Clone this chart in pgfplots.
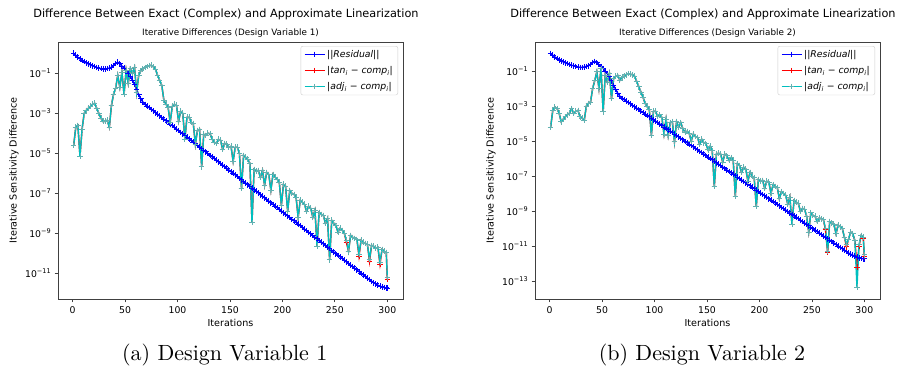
\documentclass[border=0pt]{standalone}
\usepackage{pgfplots}
\pgfplotsset{compat=1.18}
\usepackage{pgfplotstable}
\usepackage{fontspec}
\newfontfamily\dv{DejaVu Sans}
\newfontfamily\lmten{lmroman10-regular.otf}
\definecolor{mplblue}{rgb}{0,0,1}
\definecolor{mplred}{rgb}{1,0,0}
\definecolor{mplcyan}{rgb}{0,0.75,0.75}
\definecolor{mplcyanmark}{rgb}{0.38,0.70,0.70}

\pgfplotstableread{
it res
1 1.00e0
3 7.94e-1
5 6.31e-1
7 5.25e-1
9 4.37e-1
11 3.80e-1
13 3.31e-1
15 2.95e-1
17 2.63e-1
19 2.34e-1
21 2.14e-1
23 1.95e-1
25 1.82e-1
27 1.70e-1
29 1.62e-1
31 1.62e-1
33 1.70e-1
35 1.82e-1
37 2.00e-1
39 2.40e-1
41 3.02e-1
43 3.55e-1
45 3.02e-1
47 2.29e-1
49 1.78e-1
51 1.38e-1
53 1.00e-1
55 6.92e-2
57 4.57e-2
59 2.75e-2
61 1.51e-2
63 8.71e-3
65 5.25e-3
67 3.63e-3
69 2.75e-3
71 2.29e-3
73 1.91e-3
75 1.58e-3
77 1.32e-3
79 1.07e-3
81 8.91e-4
83 7.41e-4
85 6.17e-4
87 5.13e-4
89 4.17e-4
91 3.47e-4
93 2.88e-4
95 2.40e-4
97 2.00e-4
99 1.62e-4
101 1.35e-4
103 1.12e-4
105 9.33e-5
107 7.76e-5
109 6.31e-5
111 5.25e-5
113 4.37e-5
115 3.63e-5
117 3.02e-5
119 2.45e-5
121 2.04e-5
123 1.70e-5
125 1.41e-5
127 1.17e-5
129 9.55e-6
131 7.94e-6
133 6.61e-6
135 5.50e-6
137 4.57e-6
139 3.72e-6
141 3.09e-6
143 2.57e-6
145 2.14e-6
147 1.78e-6
149 1.45e-6
151 1.20e-6
153 1.00e-6
155 8.32e-7
157 6.92e-7
159 5.62e-7
161 4.68e-7
163 3.89e-7
165 3.24e-7
167 2.69e-7
169 2.19e-7
171 1.82e-7
173 1.51e-7
175 1.26e-7
177 1.05e-7
179 8.51e-8
181 7.08e-8
183 5.89e-8
185 4.90e-8
187 4.07e-8
189 3.31e-8
191 2.75e-8
193 2.29e-8
195 1.91e-8
197 1.58e-8
199 1.29e-8
201 1.07e-8
203 8.91e-9
205 7.41e-9
207 6.17e-9
209 5.01e-9
211 4.17e-9
213 3.47e-9
215 2.88e-9
217 2.40e-9
219 1.95e-9
221 1.62e-9
223 1.35e-9
225 1.12e-9
227 9.33e-10
229 7.59e-10
231 6.31e-10
233 5.25e-10
235 4.37e-10
237 3.63e-10
239 2.95e-10
241 2.45e-10
243 2.04e-10
245 1.70e-10
247 1.41e-10
249 1.15e-10
251 9.55e-11
253 7.94e-11
255 6.61e-11
257 5.50e-11
259 4.47e-11
261 3.72e-11
263 3.09e-11
265 2.57e-11
267 2.14e-11
269 1.78e-11
271 1.48e-11
273 1.20e-11
275 1.00e-11
277 8.32e-12
279 6.92e-12
281 5.75e-12
283 4.79e-12
285 3.98e-12
287 3.39e-12
289 2.95e-12
291 2.57e-12
293 2.29e-12
295 2.09e-12
297 1.95e-12
299 1.86e-12
300 1.82e-12
}\resdata

\pgfplotstableread{
it tan adj
1 2.51e-5 2.51e-5
3 2.00e-4 2.00e-4
5 2.51e-4 2.51e-4
7 7.08e-6 7.08e-6
9 1.58e-4 1.58e-4
11 1.00e-3 1.00e-3
13 1.41e-3 1.41e-3
15 1.78e-3 1.78e-3
17 2.24e-3 2.24e-3
19 2.82e-3 2.82e-3
21 3.16e-3 3.16e-3
23 1.78e-3 1.78e-3
25 1.00e-3 1.00e-3
27 5.62e-4 5.62e-4
29 3.80e-4 3.80e-4
31 3.98e-4 3.98e-4
33 4.47e-4 4.47e-4
35 2.00e-4 2.00e-4
37 2.51e-3 2.51e-3
39 8.91e-3 8.91e-3
41 1.78e-2 1.78e-2
43 7.94e-2 7.94e-2
45 2.00e-2 2.00e-2
47 1.12e-1 1.12e-1
49 8.91e-3 8.91e-3
51 1.41e-1 1.41e-1
53 3.16e-2 3.16e-2
55 1.70e-1 1.70e-1
57 1.00e-1 1.00e-1
59 2.00e-1 2.00e-1
61 1.12e-2 1.12e-2
63 7.94e-2 7.94e-2
65 1.32e-1 1.32e-1
67 1.66e-1 1.66e-1
69 1.91e-1 1.91e-1
71 2.14e-1 2.14e-1
73 2.40e-1 2.40e-1
75 2.51e-1 2.51e-1
77 2.09e-1 2.09e-1
79 1.58e-1 1.58e-1
81 7.94e-2 7.94e-2
83 4.47e-2 4.47e-2
85 2.51e-2 2.51e-2
87 4.47e-3 4.47e-3
89 2.82e-3 2.82e-3
91 2.00e-3 2.00e-3
93 3.55e-4 3.55e-4
95 2.24e-3 2.24e-3
97 2.82e-3 2.82e-3
99 2.51e-3 2.51e-3
101 3.98e-4 3.98e-4
103 1.26e-3 1.26e-3
105 1.00e-3 1.00e-3
107 5.01e-5 5.01e-5
109 6.31e-4 6.31e-4
111 6.31e-4 6.31e-4
113 3.55e-4 3.55e-4
115 3.16e-4 3.16e-4
117 2.82e-5 2.82e-5
119 1.41e-4 1.41e-4
121 1.58e-4 1.58e-4
123 2.09e-6 2.09e-6
125 8.91e-5 8.91e-5
127 7.94e-5 7.94e-5
129 1.00e-4 1.00e-4
131 9.55e-5 9.55e-5
133 5.01e-5 5.01e-5
135 3.55e-5 3.55e-5
137 3.16e-5 3.16e-5
139 5.01e-5 5.01e-5
141 4.47e-5 4.47e-5
143 1.58e-5 1.58e-5
145 3.16e-5 3.16e-5
147 2.82e-5 2.82e-5
149 2.00e-5 2.00e-5
151 2.24e-5 2.24e-5
153 3.98e-6 3.98e-6
155 2.00e-5 2.00e-5
157 2.00e-5 2.00e-5
159 1.00e-5 1.00e-5
161 1.78e-7 1.78e-7
163 7.94e-6 7.94e-6
165 6.31e-6 6.31e-6
167 5.01e-6 5.01e-6
169 3.16e-6 3.16e-6
171 3.39e-9 3.39e-9
173 1.58e-6 1.58e-6
175 1.26e-6 1.26e-6
177 1.41e-6 1.41e-6
179 6.31e-7 6.31e-7
181 1.41e-6 1.41e-6
183 2.51e-7 2.51e-7
185 1.12e-6 1.12e-6
187 8.91e-7 8.91e-7
189 1.41e-7 1.41e-7
191 8.91e-7 8.91e-7
193 6.31e-7 6.31e-7
195 5.01e-7 5.01e-7
197 3.55e-7 3.55e-7
199 2.51e-8 2.51e-8
201 2.82e-7 2.82e-7
203 2.24e-7 2.24e-7
205 1.26e-8 1.26e-8
207 1.41e-7 1.41e-7
209 1.00e-7 1.00e-7
211 8.91e-8 8.91e-8
213 6.31e-8 6.31e-8
215 6.31e-9 6.31e-9
217 4.47e-8 4.47e-8
219 3.55e-8 3.55e-8
221 2.82e-8 2.82e-8
223 1.26e-8 1.26e-8
225 2.24e-8 2.24e-8
227 1.78e-8 1.78e-8
229 6.31e-9 6.31e-9
231 1.41e-8 1.41e-8
233 2.24e-10 2.24e-10
235 1.12e-8 1.12e-8
237 8.91e-9 8.91e-9
239 7.94e-9 7.94e-9
241 3.16e-9 3.16e-9
243 5.62e-9 5.62e-9
245 4.68e-11 4.68e-11
247 4.47e-9 4.47e-9
249 3.16e-9 3.16e-9
251 2.51e-9 2.51e-9
253 1.12e-9 1.12e-9
255 1.78e-9 1.78e-9
257 1.41e-9 1.41e-9
259 1.00e-9 1.00e-9
261 3.55e-10 4.47e-10
263 1.26e-10 1.26e-10
265 7.94e-10 7.94e-10
267 6.31e-10 6.31e-10
269 5.62e-10 5.62e-10
271 5.01e-10 5.01e-10
273 7.08e-11 8.91e-11
275 4.47e-10 4.47e-10
277 3.55e-10 3.55e-10
279 3.16e-10 3.16e-10
281 2.82e-10 2.82e-10
283 3.98e-11 5.01e-11
285 2.51e-10 2.51e-10
287 2.24e-10 2.24e-10
289 1.78e-10 1.78e-10
291 2.00e-10 2.00e-10
293 2.82e-11 3.55e-11
295 1.58e-10 1.58e-10
297 1.26e-10 1.26e-10
299 1.12e-10 1.12e-10
300 5.01e-12 6.31e-12
}\dataA

\pgfplotstableread{
it tan adj
1 6.31e-5 6.31e-5
3 5.62e-4 5.62e-4
5 8.71e-4 8.71e-4
7 7.08e-4 7.08e-4
9 3.98e-4 3.98e-4
11 1.26e-4 1.26e-4
13 1.78e-4 1.78e-4
15 2.40e-4 2.40e-4
17 3.16e-4 3.16e-4
19 3.98e-4 3.98e-4
21 7.08e-4 7.08e-4
23 3.63e-4 3.63e-4
25 5.01e-4 5.01e-4
27 5.62e-4 5.62e-4
29 2.40e-4 2.40e-4
31 2.00e-4 2.00e-4
33 1.51e-4 1.51e-4
35 1.00e-3 1.00e-3
37 1.41e-3 1.41e-3
39 1.70e-3 1.70e-3
41 1.00e-2 1.00e-2
43 2.82e-2 2.82e-2
45 8.91e-2 8.91e-2
47 1.00e-2 1.00e-2
49 1.35e-1 1.35e-1
51 4.57e-4 4.57e-4
53 5.62e-2 5.62e-2
55 2.34e-2 2.34e-2
57 7.08e-2 7.08e-2
59 2.63e-3 2.63e-3
61 3.63e-2 3.63e-2
63 5.01e-2 5.01e-2
65 5.62e-2 5.62e-2
67 2.95e-2 2.95e-2
69 4.47e-2 4.47e-2
71 5.01e-2 5.01e-2
73 6.03e-2 6.03e-2
75 7.08e-2 7.08e-2
77 6.61e-2 6.61e-2
79 6.03e-2 6.03e-2
81 5.01e-2 5.01e-2
83 2.51e-2 2.51e-2
85 1.26e-2 1.26e-2
87 6.31e-3 6.31e-3
89 3.16e-3 3.16e-3
91 1.41e-3 1.41e-3
93 8.91e-4 8.91e-4
95 6.31e-4 6.31e-4
97 2.14e-5 2.14e-5
99 5.01e-4 5.01e-4
101 5.01e-4 5.01e-4
103 2.51e-4 2.51e-4
105 3.16e-4 3.16e-4
107 2.24e-4 2.24e-4
109 2.51e-5 2.51e-5
111 1.78e-4 1.78e-4
113 2.00e-5 2.00e-5
115 1.12e-4 1.12e-4
117 1.26e-4 1.26e-4
119 8.91e-6 8.91e-6
121 1.26e-4 1.26e-4
123 6.31e-5 6.31e-5
125 1.12e-4 1.12e-4
127 5.01e-5 5.01e-5
129 3.16e-5 3.16e-5
131 3.55e-5 3.55e-5
133 2.82e-5 2.82e-5
135 1.00e-5 1.00e-5
137 2.51e-5 2.51e-5
139 1.78e-5 1.78e-5
141 1.58e-5 1.58e-5
143 6.31e-6 6.31e-6
145 1.26e-5 1.26e-5
147 7.94e-6 7.94e-6
149 7.08e-6 7.08e-6
151 3.16e-6 3.16e-6
153 5.01e-6 5.01e-6
155 2.82e-6 2.82e-6
157 2.51e-8 2.51e-8
159 1.78e-6 1.78e-6
161 2.00e-6 2.00e-6
163 1.78e-6 1.78e-6
165 6.31e-7 6.31e-7
167 1.78e-6 1.78e-6
169 1.41e-6 1.41e-6
171 7.94e-7 7.94e-7
173 1.12e-6 1.12e-6
175 7.94e-7 7.94e-7
177 7.08e-9 7.08e-9
179 5.01e-7 5.01e-7
181 3.98e-7 3.98e-7
183 1.58e-7 1.58e-7
185 3.16e-7 3.16e-7
187 2.51e-7 2.51e-7
189 5.01e-8 5.01e-8
191 1.58e-7 1.58e-7
193 1.00e-7 1.00e-7
195 7.94e-8 7.94e-8
197 1.78e-9 1.78e-9
199 6.31e-8 6.31e-8
201 5.01e-8 5.01e-8
203 5.62e-8 5.62e-8
205 2.00e-8 2.00e-8
207 5.01e-8 5.01e-8
209 4.47e-8 4.47e-8
211 1.00e-8 1.00e-8
213 3.16e-8 3.16e-8
215 2.51e-8 2.51e-8
217 2.24e-8 2.24e-8
219 5.01e-9 5.01e-9
221 1.26e-8 1.26e-8
223 1.00e-8 1.00e-8
225 7.94e-9 7.94e-9
227 2.51e-9 2.51e-9
229 6.31e-9 6.31e-9
231 1.78e-10 1.78e-10
233 3.98e-9 3.98e-9
235 3.16e-9 3.16e-9
237 2.82e-9 2.82e-9
239 1.00e-9 1.00e-9
241 1.41e-9 1.41e-9
243 1.26e-9 1.26e-9
245 5.01e-10 5.01e-10
247 6.31e-11 6.31e-11
249 7.94e-10 7.94e-10
251 5.62e-10 5.62e-10
253 5.01e-10 5.01e-10
255 2.51e-10 2.51e-10
257 3.98e-10 3.98e-10
259 3.55e-10 3.55e-10
261 3.16e-10 3.16e-10
263 8.32e-11 1.00e-10
265 4.17e-12 5.01e-12
267 2.51e-10 2.51e-10
269 2.00e-10 2.00e-10
271 1.78e-10 1.78e-10
273 5.01e-11 5.01e-11
275 1.58e-10 1.58e-10
277 1.26e-10 1.26e-10
279 1.00e-10 1.00e-10
281 3.16e-11 3.16e-11
283 8.91e-12 1.26e-11
285 2.51e-11 2.51e-11
287 6.31e-11 6.31e-11
289 5.01e-11 5.01e-11
291 2.00e-11 2.00e-11
293 6.31e-13 4.47e-14
295 1.00e-11 1.26e-11
297 3.98e-11 3.98e-11
299 2.82e-11 3.16e-11
300 2.51e-12 3.16e-12
}\dataB

\pgfplotsset{
  mplres/.style={draw=mplblue, color=mplblue, line width=1.4bp, mark=+, mark size=2.8bp, mark options={draw=mplblue, line width=0.9bp}},
  mpltan/.style={draw=mplred, color=mplred, line width=1.4bp, mark=+, mark size=2.8bp, mark options={draw=mplred, line width=0.9bp}},
  mpladj/.style={draw=mplcyan, color=mplcyan, line width=1.4bp, mark=+, mark size=2.8bp, mark options={draw=mplcyanmark, line width=0.9bp}},
}
\newcommand{\commonopts}{%
    scale only axis, width=345bp, height=257bp,
    ymode=log, xmin=-13.95, xmax=314.95,
    xtick={0,50,100,150,200,250,300},
    /pgf/number format/assume math mode=true,
    axis line style={black!75, line width=0.75bp},
    every tick/.style={black!75, line width=0.75bp},
    major tick length=3.3bp,
    tick align=outside,
    xtick pos=bottom, ytick pos=left,
    yminorticks=false,
    ticklabel style={font=\dv\fontsize{9.3bp}{11bp}\selectfont},
    xticklabel style={yshift=-1bp},
    every axis x label/.style={at={(axis description cs:0.5,-0.0946)}, anchor=center, font=\dv\fontsize{9.6bp}{11bp}\selectfont},
    every axis y label/.style={at={(axis description cs:-0.1275,0.5)}, rotate=90, anchor=center, font=\dv\fontsize{9.6bp}{11bp}\selectfont},
    xlabel={Iterations},
    ylabel={Iterative Sensitivity Difference},
    legend style={at={(0.9855,0.9844)}, anchor=north east, draw=black!20, rounded corners=2bp,
      fill=white, font=\dv\fontsize{9.3bp}{11bp}\selectfont, inner xsep=3bp, inner ysep=2bp, row sep=3.5bp},
    legend cell align=left}

\pgfplotsset{legend image code/.code={\draw[#1, mark repeat=2, mark phase=2] plot coordinates {(0bp,0bp) (10bp,0bp) (20bp,0bp)};}}

\begin{document}
\begin{tikzpicture}
\useasboundingbox (0,0) rectangle (901bp,372bp);
\edef\tmp{\noexpand\begin{axis}[\unexpanded\expandafter{\commonopts}, at={(58bp,73bp)}, anchor=south west,
  ymin=5.19e-13, ymax=3.67,
  ytick={1e-11,1e-9,1e-7,1e-5,1e-3,1e-1},
  yticklabels={10\noexpand\textsuperscript{−11},10\noexpand\textsuperscript{−9},10\noexpand\textsuperscript{−7},10\noexpand\textsuperscript{−5},10\noexpand\textsuperscript{−3},10\noexpand\textsuperscript{−1}}]}%
\tmp
\addplot[mplres] table[x=it,y=res]{\resdata};
\addlegendentry{||\textit{Residual}||}
\addplot[mpltan] table[x=it,y=tan]{\dataA};
\addlegendentry{|\textit{tan}\textsubscript{\textit{i}} − \textit{comp}\textsubscript{\textit{i}}|}
\addplot[mpladj] table[x=it,y=adj]{\dataA};
\addlegendentry{|\textit{adj}\textsubscript{\textit{i}} − \textit{comp}\textsubscript{\textit{i}}|}
\end{axis}
\edef\tmp{\noexpand\begin{axis}[\unexpanded\expandafter{\commonopts}, at={(535bp,73bp)}, anchor=south west,
  ymin=9.3e-15, ymax=4.54,
  ytick={1e-13,1e-11,1e-9,1e-7,1e-5,1e-3,1e-1},
  yticklabels={10\noexpand\textsuperscript{−13},10\noexpand\textsuperscript{−11},10\noexpand\textsuperscript{−9},10\noexpand\textsuperscript{−7},10\noexpand\textsuperscript{−5},10\noexpand\textsuperscript{−3},10\noexpand\textsuperscript{−1}}]}%
\tmp
\addplot[mplres] table[x=it,y=res]{\resdata};
\addlegendentry{||\textit{Residual}||}
\addplot[mpltan] table[x=it,y=tan]{\dataB};
\addlegendentry{|\textit{tan}\textsubscript{\textit{i}} − \textit{comp}\textsubscript{\textit{i}}|}
\addplot[mpladj] table[x=it,y=adj]{\dataB};
\addlegendentry{|\textit{adj}\textsubscript{\textit{i}} − \textit{comp}\textsubscript{\textit{i}}|}
\end{axis}
\node[anchor=base, font=\dv\fontsize{11.3bp}{13bp}\selectfont] at (226bp,354.7bp) {Difference Between Exact (Complex) and Approximate Linearization};
\node[anchor=base, font=\dv\fontsize{11.3bp}{13bp}\selectfont] at (703bp,354.7bp) {Difference Between Exact (Complex) and Approximate Linearization};
\node[anchor=base, font=\dv\fontsize{8.8bp}{11bp}\selectfont] at (230.5bp,336bp) {Iterative Differences (Design Variable 1)};
\node[anchor=base, font=\dv\fontsize{8.8bp}{11bp}\selectfont] at (707.5bp,336bp) {Iterative Differences (Design Variable 2)};
\node[anchor=base, font=\lmten\fontsize{22bp}{26bp}\selectfont] at (224.7bp,11.3bp) {(a) Design Variable 1};
\node[anchor=base, font=\lmten\fontsize{22bp}{26bp}\selectfont] at (702bp,11.3bp) {(b) Design Variable 2};
\end{tikzpicture}
\end{document}
